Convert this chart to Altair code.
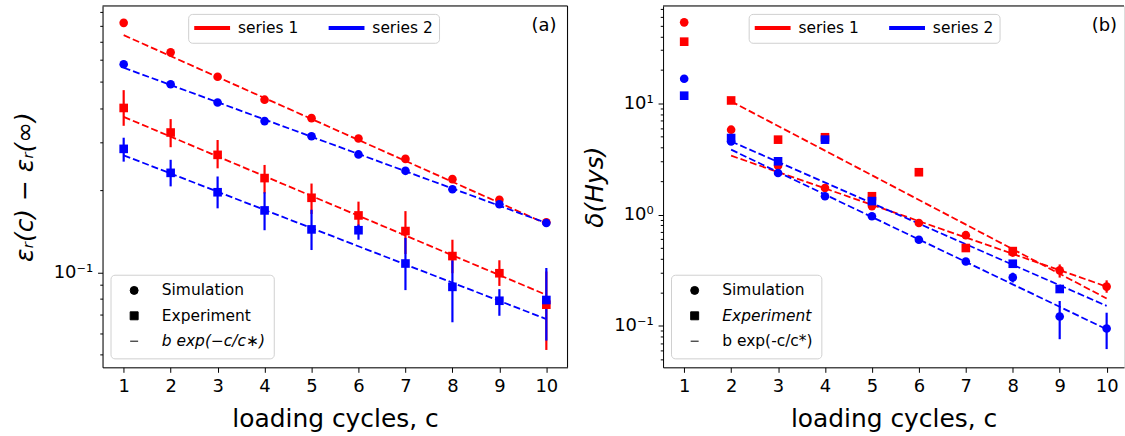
import altair as alt
import pandas as pd

FONT = "DejaVu Sans"
RED, BLUE = "#ff0000", "#0000ff"

cycles = [1, 2, 3, 4, 5, 6, 7, 8, 9, 10]
series_names = ["series 1", "series 2"]

# ---------------- panel (a) ----------------
a_sim_1 = [0.822, 0.641, 0.522, 0.430, 0.368, 0.310, 0.261, 0.220, 0.185, 0.153]
a_sim_2 = [0.580, 0.490, 0.420, 0.359, 0.316, 0.271, 0.236, 0.202, 0.178, 0.152]
a_exp_1 = [0.401, 0.326, 0.270, 0.222, 0.188, 0.162, 0.142, 0.115, 0.0995, 0.0763]
a_exp_1_lo = [0.345, 0.288, 0.241, 0.195, 0.164, 0.144, 0.117, 0.0995, 0.0894, 0.0521]
a_exp_1_hi = [0.466, 0.365, 0.306, 0.248, 0.212, 0.182, 0.168, 0.132, 0.111, 0.101]
a_exp_2 = [0.284, 0.232, 0.197, 0.169, 0.144, 0.143, 0.108, 0.0887, 0.0789, 0.0794]
a_exp_2_lo = [0.255, 0.207, 0.172, 0.143, 0.121, 0.132, 0.0863, 0.0658, 0.0695, 0.0564]
a_exp_2_hi = [0.312, 0.259, 0.225, 0.197, 0.170, 0.150, 0.134, 0.111, 0.0870, 0.104]
a_fit_c = [1, 10]
a_fit_sim_1 = [0.741, 0.151]
a_fit_sim_2 = [0.563, 0.152]
a_fit_exp_1 = [0.372, 0.0829]
a_fit_exp_2 = [0.269, 0.0676]
a_kinds = ["Simulation", "Experiment", "b exp(−c/c∗)"]
a_ticks = [0.05, 0.06, 0.07, 0.08, 0.09, 0.1, 0.2, 0.3, 0.4, 0.5, 0.6, 0.7, 0.8, 0.9]

# ---------------- panel (b) ----------------
b_sim_1 = [53.4, 5.79, 2.75, 1.73, 1.19, 0.84, 0.652, 0.455, 0.315, 0.225]
b_sim_1_lo = [None, None, None, None, None, None, None, None, 0.271, 0.198]
b_sim_1_hi = [None, None, None, None, None, None, None, None, 0.356, 0.256]
b_sim_2 = [16.6, 4.54, 2.36, 1.46, 0.966, 0.593, 0.378, 0.272, 0.121, 0.0945]
b_sim_2_lo = [None, None, None, None, None, None, 0.355, 0.245, 0.0757, 0.0617]
b_sim_2_hi = [None, None, None, None, None, None, 0.400, 0.300, 0.167, 0.131]
b_exp_1 = [35.8, 10.6, 4.71, 4.95, 1.46, 2.40, 0.50, 0.469, None, None]
b_exp_2 = [11.7, 4.87, 3.01, 4.71, 1.32, None, None, 0.361, 0.214, None]
b_fit_c = [2, 10]
b_fit_sim_1 = [3.38, 0.225]
b_fit_sim_2 = [3.83, 0.093]
b_fit_exp_1 = [10.4, 0.176]
b_fit_exp_2 = [4.54, 0.151]
b_kinds = ["Simulation", "Experiment", "b exp(-c/c*)"]
b_ticks = [0.05, 0.06, 0.07, 0.08, 0.09, 0.1, 0.2, 0.3, 0.4, 0.5, 0.6, 0.7, 0.8, 0.9,
           1, 2, 3, 4, 5, 6, 7, 8, 9, 10, 20, 30, 40, 50, 60, 70]


def point_rows(vals, series, kind):
    return [{"c": c, "v": v, "series": series, "kind": kind}
            for c, v in zip(cycles, vals) if v is not None]


def err_rows(lo, hi, series):
    return [{"c": c, "lo": l, "hi": h, "series": series}
            for c, l, h in zip(cycles, lo, hi) if l is not None]


def fit_rows(cs, vals, series, name):
    return [{"c": c, "v": v, "series": series, "fit": name} for c, v in zip(cs, vals)]


def panel(points, errs, fits, W, H, xmax, ydomain, yticks, ylabel_expr, ymajor_test,
          ytitle, ytitle_pad, kinds, italic_kind, tag, tag_x):
    one = pd.DataFrame({"k": [0]})
    xs = alt.Scale(domain=[0.55, xmax], nice=False, zero=False)
    ys = alt.Scale(type="log", domain=ydomain, nice=False)
    xaxis = alt.Axis(values=cycles, title="loading cycles, c", grid=False,
                     labelFontSize=18, titleFontSize=25, titleFontWeight="normal",
                     tickSize=5, labelPadding=5, titlePadding=11, labelFlush=False,
                     domainColor="black", tickColor="black", labelColor="black",
                     titleColor="black", labelFont=FONT, titleFont=FONT, labelOverlap=False)
    yaxis = alt.Axis(values=yticks, labelExpr=ylabel_expr, title=ytitle, grid=False,
                     tickSize={"condition": {"test": ymajor_test, "value": 5}, "value": 2.8},
                     labelFontSize={"condition": {"test": ymajor_test, "value": 18}, "value": 0},
                     titleFontSize=25, titleFontStyle="italic",
                     titleFontWeight="normal", labelPadding=5, titlePadding=ytitle_pad,
                     domainColor="black", tickColor="black", labelColor="black",
                     titleColor="black", labelFont=FONT, titleFont=FONT,
                     labelOverlap=False)
    X = alt.X("c:Q", scale=xs, axis=xaxis)
    cscale = alt.Scale(domain=series_names, range=[RED, BLUE])
    color_legend = alt.Legend(
        title=None, orient="none", legendX=86, legendY=8, direction="horizontal",
        symbolType="M-1.7,-0.45H6.3V0.45H-1.7Z", symbolSize=81, symbolStrokeWidth=0,
        symbolOffset=0, labelOffset=28.5, columnPadding=30, padding=6,
        labelFont=FONT, labelFontSize=15.5, labelColor="black",
        strokeColor="#d0d0d0", fillColor="white", cornerRadius=4, symbolOpacity=1)
    shape_legend = alt.Legend(
        title=None, orient="none", legendX=8, legendY=270, direction="vertical",
        symbolSize=64, symbolStrokeWidth=1, symbolFillColor="black",
        symbolStrokeColor="black", symbolOffset=8, labelOffset=20, rowPadding=8.5,
        padding=8, labelFont=FONT, labelFontSize=15.5, labelColor="black",
        strokeColor="#d0d0d0", fillColor="white", cornerRadius=4, symbolOpacity=1,
        labelFontStyle={"expr": "datum.value == '%s' ? 'italic' : 'normal'" % italic_kind})
    color = alt.Color("series:N", scale=cscale, legend=color_legend)

    fit_layer = alt.Chart(pd.DataFrame(fits)).mark_line(
        strokeDash=[7, 3], strokeWidth=1.8).encode(
        x=X, y=alt.Y("v:Q", scale=ys, axis=yaxis), color=color, detail="fit:N")
    err_layer = alt.Chart(pd.DataFrame(errs)).mark_rule(strokeWidth=2.2).encode(
        x=X, y=alt.Y("lo:Q", scale=ys, axis=yaxis), y2="hi:Q", color=color)
    pt_layer = alt.Chart(pd.DataFrame(points)).mark_point(
        filled=True, size=75, opacity=1).encode(
        x=X, y=alt.Y("v:Q", scale=ys, axis=yaxis), color=color,
        shape=alt.Shape("kind:N", scale=alt.Scale(domain=kinds,
                                                   range=["circle", "square", "stroke"]),
                        legend=shape_legend))
    top_rule = alt.Chart(one).mark_rule(color="black", strokeWidth=1).encode(
        x=alt.value(0), x2=alt.value(W), y=alt.value(0))
    layers = [fit_layer, err_layer, pt_layer, top_rule]
    if tag == "(a)":
        layers.append(alt.Chart(one).mark_rule(color="black", strokeWidth=1).encode(
            x=alt.value(W), y=alt.value(0), y2=alt.value(H)))
    layers.append(alt.Chart(one).mark_text(
        align="right", baseline="middle", fontSize=18, font=FONT, color="black").encode(
        x=alt.value(tag_x), y=alt.value(20), text=alt.value(tag)))
    return alt.layer(*layers).properties(width=W, height=H)


# data tables
a_points = (point_rows(a_sim_1, "series 1", "Simulation") + point_rows(a_exp_1, "series 1", "Experiment")
            + point_rows(a_sim_2, "series 2", "Simulation") + point_rows(a_exp_2, "series 2", "Experiment"))
a_errs = err_rows(a_exp_1_lo, a_exp_1_hi, "series 1") + err_rows(a_exp_2_lo, a_exp_2_hi, "series 2")
a_fits = (fit_rows(a_fit_c, a_fit_sim_1, "series 1", "s1") + fit_rows(a_fit_c, a_fit_exp_1, "series 1", "e1")
          + fit_rows(a_fit_c, a_fit_sim_2, "series 2", "s2") + fit_rows(a_fit_c, a_fit_exp_2, "series 2", "e2"))

b_points = (point_rows(b_sim_1, "series 1", "Simulation") + point_rows(b_exp_1, "series 1", "Experiment")
            + point_rows(b_sim_2, "series 2", "Simulation") + point_rows(b_exp_2, "series 2", "Experiment"))
b_errs = err_rows(b_sim_1_lo, b_sim_1_hi, "series 1") + err_rows(b_sim_2_lo, b_sim_2_hi, "series 2")
b_fits = (fit_rows(b_fit_c, b_fit_sim_1, "series 1", "s1") + fit_rows(b_fit_c, b_fit_exp_1, "series 1", "e1")
          + fit_rows(b_fit_c, b_fit_sim_2, "series 2", "s2") + fit_rows(b_fit_c, b_fit_exp_2, "series 2", "e2"))

H = 363
left = panel(a_points, a_errs, a_fits, 467, H, 10.45, [0.045, 0.948], a_ticks,
             "datum.value == 0.1 ? '10⁻¹' : ''", "datum.value == 0.1",
             "εᵣ(c) − εᵣ(∞)", 16, a_kinds, a_kinds[2], "(a)", 456)
right = panel(b_points, b_errs, b_fits, 463, H, 10.37, [0.0423, 75], b_ticks,
              "datum.value == 10 ? '10¹' : (datum.value == 1 ? '10⁰' : (datum.value == 0.1 ? '10⁻¹' : ''))",
              "datum.value == 0.1 || datum.value == 1 || datum.value == 10",
              "δ(Hys)", 6, b_kinds, "Experiment", "(b)", 456)

chart = alt.hconcat(left, right, spacing=13).resolve_scale(
    color="independent", shape="independent", x="independent", y="independent"
).resolve_legend(color="independent", shape="independent").properties(
    padding={"left": 11, "top": 4, "right": 0, "bottom": 0}
).configure_view(stroke=None).configure(font=FONT)

chart.save("out.html", embed_options={"renderer": "svg", "actions": False})
